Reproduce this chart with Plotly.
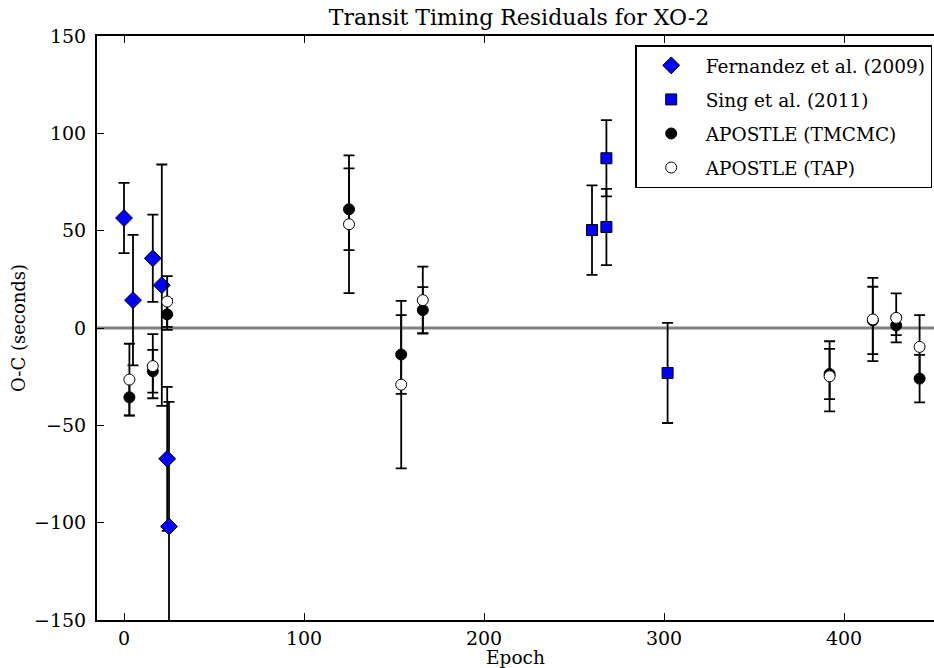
import plotly.graph_objects as go

# Fernandez et al. (2009)
fern_epoch = [0, 5, 16, 21, 24, 25]
fern_oc = [56.5, 14.3, 35.8, 22.0, -67.2, -102.0]
fern_err = [18.0, 33.5, 22.4, 62.0, 37.0, 64.0]

# Sing et al. (2011)
sing_epoch = [260, 268, 268, 302]
sing_oc = [50.3, 87.2, 51.9, -23.1]
sing_err = [23.0, 19.6, 19.6, 25.7]

# APOSTLE (TMCMC)
tm_epoch = [3, 16, 24, 125, 154, 166, 392, 416, 429, 442]
tm_oc = [-35.6, -22.2, 7.0, 61.0, -13.6, 9.2, -23.6, 3.9, 1.3, -26.0]
tm_err = [9.4, 11.0, 8.0, 21.0, 20.2, 11.8, 12.9, 17.3, 5.0, 12.2]

# APOSTLE (TAP)
tap_epoch = [3, 16, 24, 125, 154, 166, 392, 416, 429, 442]
tap_oc = [-26.5, -19.6, 13.6, 53.3, -29.1, 14.3, -24.8, 4.4, 5.2, -9.7]
tap_err = [18.4, 16.5, 13.0, 35.4, 43.0, 17.2, 18.0, 21.4, 12.6, 16.3]

x_ticks = [0, 100, 200, 300, 400]
y_ticks = [-150, -100, -50, 0, 50, 100, 150]

FONT = "DejaVu Serif"

def eb(err):
    return dict(type="data", array=err, visible=True, color="black",
                thickness=1.8, width=5.5)

fig = go.Figure()
fig.add_trace(go.Scatter(
    x=fern_epoch, y=fern_oc, mode="markers", name="Fernandez et al. (2009)",
    legendgroup="a",
    marker=dict(symbol="diamond", size=13, color="#0000ff",
                line=dict(color="black", width=1)),
    error_y=eb(fern_err)))
fig.add_trace(go.Scatter(
    x=sing_epoch, y=sing_oc, mode="markers", name="Sing et al. (2011)",
    legendgroup="b",
    marker=dict(symbol="square", size=11, color="#0000ff",
                line=dict(color="black", width=1)),
    error_y=eb(sing_err)))
fig.add_trace(go.Scatter(
    x=tm_epoch, y=tm_oc, mode="markers", name="APOSTLE (TMCMC)",
    legendgroup="c",
    marker=dict(symbol="circle", size=11, color="black",
                line=dict(color="black", width=1)),
    error_y=eb(tm_err)))
fig.add_trace(go.Scatter(
    x=tap_epoch, y=tap_oc, mode="markers", name="APOSTLE (TAP)",
    legendgroup="d",
    marker=dict(symbol="circle", size=11, color="white",
                line=dict(color="black", width=1)),
    error_y=eb(tap_err)))

fig.add_hline(y=0, line=dict(color="#808080", width=3), layer="below")

fig.update_layout(
    width=934, height=668,
    margin=dict(l=97, r=0, t=36, b=48),
    paper_bgcolor="white", plot_bgcolor="white",
    font=dict(family=FONT, size=18, color="black"),
    title=dict(text="Transit Timing Residuals for XO-2",
               x=519 / 934, xref="container", xanchor="center",
               y=1 - 17 / 668, yref="container", yanchor="middle",
               font=dict(family=FONT, size=22, color="black")),
    showlegend=True,
    legend=dict(x=0.643, y=0.984, xanchor="left", yanchor="top",
                bgcolor="white", bordercolor="black", borderwidth=1.5,
                font=dict(family=FONT, size=18.5, color="black"),
                tracegroupgap=7, itemwidth=59),
)
fig.update_xaxes(
    range=[-15, 450], tickvals=x_ticks, ticks="inside", ticklen=7,
    tickwidth=1.2, tickcolor="black", showline=True, linecolor="black",
    linewidth=2, mirror="allticks", showgrid=False, zeroline=False,
    title=dict(text="Epoch", standoff=3, font=dict(family=FONT, size=18.5)),
    tickfont=dict(family=FONT, size=19))
fig.update_yaxes(
    range=[-150, 150], tickvals=y_ticks, ticks="inside", ticklen=7,
    tickwidth=1.2, tickcolor="black", showline=True, linecolor="black",
    linewidth=2, mirror=False, showgrid=False, zeroline=False,
    ticklabelstandoff=5,
    title=dict(text="O-C (seconds)", standoff=4, font=dict(family=FONT, size=18)),
    tickfont=dict(family=FONT, size=19))

fig.write_html("out.html")
